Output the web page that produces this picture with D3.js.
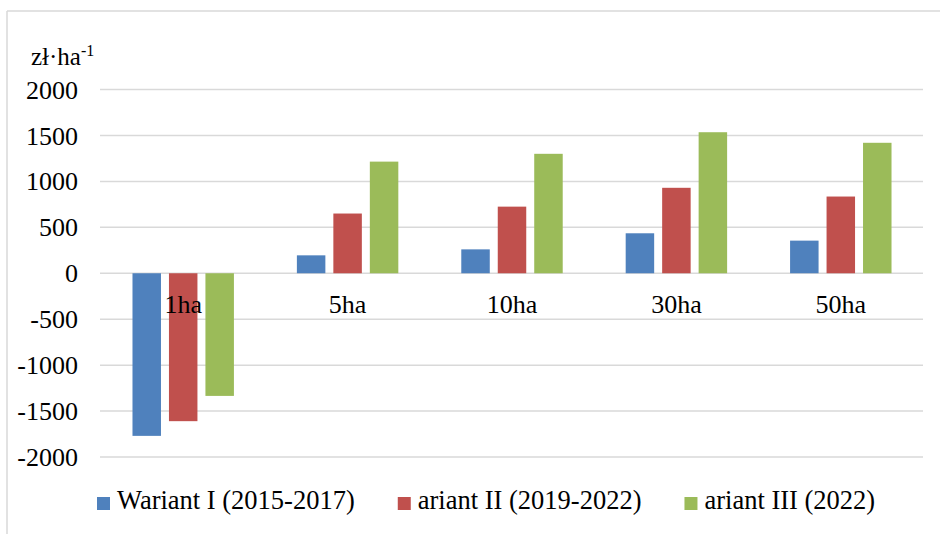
<!DOCTYPE html>
<html>
<head>
<meta charset="utf-8">
<script src="https://cdn.jsdelivr.net/npm/d3@7"></script>
<style>
html, body { margin: 0; padding: 0; background: #fff; }
svg { display: block; }
svg text { font-family: "Liberation Serif", "Times New Roman", Times, serif; }
</style>
</head>
<body>
<svg id="chart" width="940" height="534"></svg>
<script>
const categories = ["1ha", "5ha", "10ha", "30ha", "50ha"];
const seriesNames = ["Wariant I (2015-2017)", "ariant II (2019-2022)", "ariant III (2022)"];
const wariant1 = [-1770, 195, 260, 435, 355];
const wariant2 = [-1610, 650, 725, 930, 835];
const wariant3 = [-1335, 1215, 1300, 1535, 1420];
const yTicks = [-2000, -1500, -1000, -500, 0, 500, 1000, 1500, 2000];
const colors = ["#4f81bd", "#c0504d", "#9bbb59"];

const seriesValues = [wariant1, wariant2, wariant3];

const svg = d3.select("#chart");
const W = 940, H = 534;

// outer frame (top and left edges)
svg.append("line").attr("x1", 7).attr("x2", W).attr("y1", 11).attr("y2", 11)
  .attr("stroke", "#d9d9d9").attr("stroke-width", 1.5);
svg.append("line").attr("x1", 7).attr("x2", 7).attr("y1", 11).attr("y2", H)
  .attr("stroke", "#d9d9d9").attr("stroke-width", 1.5);

const y = d3.scaleLinear().domain([-2000, 2000]).range([457, 89.5]);
const x0 = d3.scaleBand().domain(categories).range([101, 923]).paddingInner(0.383).paddingOuter(0.1915);
const x1 = d3.scaleBand().domain(d3.range(seriesNames.length)).range([0, x0.bandwidth()]).paddingInner(0.219);

// gridlines
svg.append("g").selectAll("line").data(yTicks).join("line")
  .attr("x1", 100).attr("x2", 923)
  .attr("y1", d => y(d)).attr("y2", d => y(d))
  .attr("stroke", "#d9d9d9").attr("stroke-width", 1.5);

// y tick labels
svg.append("g").selectAll("text").data(yTicks).join("text")
  .attr("x", 78).attr("y", d => y(d)).attr("dy", "0.35em")
  .attr("text-anchor", "end").attr("font-size", 26).attr("fill", "#000")
  .text(d => d);

// unit label
const unit = svg.append("text").attr("x", 31).attr("y", 65).attr("font-size", 25).attr("fill", "#000");
unit.append("tspan").text("zł·ha");
unit.append("tspan").attr("font-size", 16).attr("dy", -9).text("-1");

// bars
const groups = svg.append("g").selectAll("g").data(categories).join("g")
  .attr("transform", d => `translate(${x0(d)},0)`);
groups.selectAll("rect").data((c, ci) => seriesValues.map((vals, si) => ({ si, v: vals[ci] })))
  .join("rect")
  .attr("x", d => x1(d.si))
  .attr("width", x1.bandwidth())
  .attr("y", d => y(Math.max(0, d.v)))
  .attr("height", d => Math.abs(y(d.v) - y(0)))
  .attr("fill", d => colors[d.si]);

// category labels
svg.append("g").selectAll("text").data(categories).join("text")
  .attr("x", d => x0(d) + x0.bandwidth() / 2)
  .attr("y", 313)
  .attr("text-anchor", "middle").attr("font-size", 26).attr("fill", "#000")
  .text(d => d);

// legend
const legend = svg.append("g");
let lx = 97;
seriesNames.forEach((name, i) => {
  legend.append("rect").attr("x", lx).attr("y", 497).attr("width", 13).attr("height", 13).attr("fill", colors[i]);
  const t = legend.append("text").attr("x", lx + 20).attr("y", 509).attr("font-size", 26.5).attr("fill", "#000").text(name);
  lx = lx + 20 + t.node().getComputedTextLength() + 43;
});
</script>
</body>
</html>
